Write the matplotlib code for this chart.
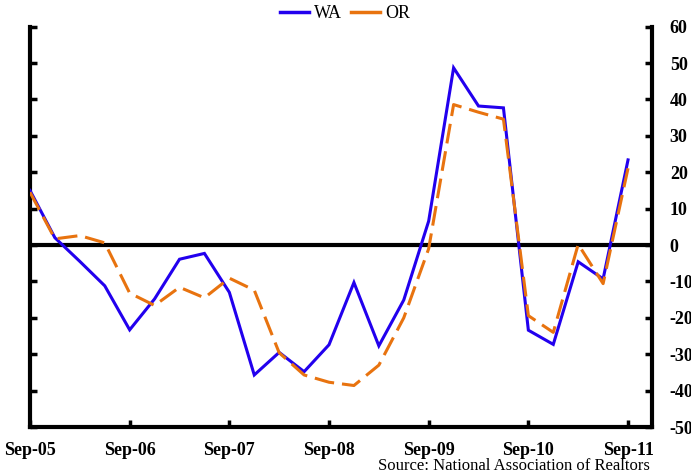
import matplotlib
matplotlib.use("Agg")
import matplotlib.pyplot as plt
from matplotlib.lines import Line2D

# Quarterly data, Sep-05 .. Sep-11
quarters = list(range(25))
wa = [15.0, 2.0, -4.5, -11.2, -23.3, -14.8, -3.9, -2.3, -13.0, -35.7, -29.5, -34.8, -27.4,
      -10.3, -27.7, -15.1, 6.6, 48.7, 38.2, 37.7, -23.4, -27.3, -4.6, -9.3, 23.4]
orr = [14.5, 1.7, 2.6, 0.6, -13.2, -16.6, -11.6, -14.5, -9.1, -12.4, -29.6, -35.7, -37.7,
       -38.6, -33.0, -20.0, -1.0, 38.6, 36.5, 34.6, -19.4, -24.0, 0.2, -10.6, 21.1]
xtick_pos = [0, 4, 8, 12, 16, 20, 24]
xtick_labels = ["Sep-05", "Sep-06", "Sep-07", "Sep-08", "Sep-09", "Sep-10", "Sep-11"]
yticks = list(range(-50, 61, 10))

plt.rcParams['font.family'] = ['Liberation Serif', 'DejaVu Serif']

blue = "#2200EE"
orange = "#E8730F"

fig = plt.figure(figsize=(6.91, 4.76), dpi=100)
ax = fig.add_axes([30 / 691, 1 - 427 / 476, (651.7 - 30) / 691, (427 - 26.7) / 476])

ax.axhline(0, color="black", lw=3.0, zorder=1)
ax.plot(quarters, wa, color=blue, lw=2.2, zorder=3, solid_joinstyle="miter")
ax.plot(quarters, orr, color=orange, lw=2.2, dashes=(6.5, 2.6), zorder=4)

ax.set_xlim(0, 24.95)
ax.set_ylim(-50, 60)
ax.set_xticks(xtick_pos)
ax.set_xticklabels(xtick_labels, fontsize=13, fontweight="bold")
ax.set_yticks(yticks)
ax.set_yticklabels([str(v) for v in yticks], fontsize=13, fontweight="bold")

ax.yaxis.tick_right()
ax.tick_params(axis="y", which="both", direction="in", length=5, width=2.5,
               left=True, right=True, labelleft=False, labelright=True, pad=13)
ax.tick_params(axis="x", direction="in", length=5, width=2.5, pad=11)

for s in ["left", "right", "bottom"]:
    ax.spines[s].set_linewidth(3.0)
ax.spines["top"].set_visible(False)

handles = [Line2D([], [], color=blue, lw=2.5), Line2D([], [], color=orange, lw=2.5)]
fig.legend(handles, ["WA", "OR"], loc="center", bbox_to_anchor=(345 / 691, 1 - 14 / 476), ncol=2,
           frameon=False, fontsize=13, handlelength=1.6, handletextpad=0.3,
           columnspacing=0.5, borderpad=0)

fig.text(650 / 691, 1 - 466 / 476, "Source: National Association of Realtors",
         ha="right", va="center", fontsize=12)

fig.savefig("out.png", dpi=100)
